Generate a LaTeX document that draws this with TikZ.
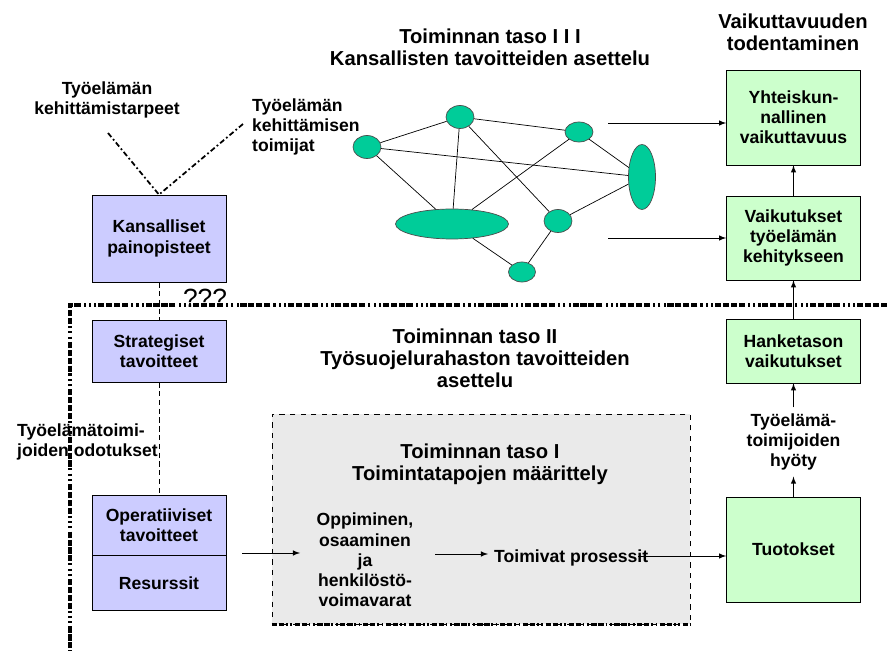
\documentclass[tikz,border=0pt]{standalone}
\usepackage{fontspec}
\setmainfont{Liberation Sans}
\usetikzlibrary{shapes.geometric}
\definecolor{boxblue}{RGB}{204,204,255}
\definecolor{boxgreen}{RGB}{204,255,204}
\definecolor{boxgrey}{RGB}{234,234,234}
\definecolor{blobgreen}{RGB}{0,204,153}

\begin{document}
\begin{tikzpicture}[x=0.02cm,y=-0.02cm,
    txt/.style={font=\bfseries\fontsize{10}{11.5}\selectfont,align=center},
    title/.style={font=\bfseries\fontsize{11.5}{12.5}\selectfont,align=center},
    bluebox/.style={draw,fill=boxblue,minimum width=2.68cm,inner sep=0pt,txt},
    greenbox/.style={draw,fill=boxgreen,minimum width=2.68cm,inner sep=0pt,txt},
    blob/.style={draw=black!70,fill=blobgreen,ellipse,inner sep=0pt},
    levelframe/.style={line width=2pt,dash pattern=on 3.5pt off 1pt on 3.5pt off 1pt on 3.5pt off 1pt on 3.5pt off 1pt on 1.2pt off 1.8pt on 1.2pt off 1.8pt on 1.2pt off 1.8pt},
    dashline/.style={line width=1pt,dash pattern=on 3pt off 1.5pt on 1pt off 1.5pt}]
    \useasboundingbox (0,0) rectangle (887,651);
    % titles
    \node [title] (T3) at (490,47) {Toiminnan taso I I I\\Kansallisten tavoitteiden asettelu};
    \node [title] (VT) at (793,32) {Vaikuttavuuden\\todentaminen};
    \node [title] (T2) at (475,358) {Toiminnan taso II\\Työsuojelurahaston tavoitteiden\\asettelu};
    % level frame
    \draw [levelframe] (887,305) -- (70,305) -- (70,651);
    % grey box
    \node [draw,dashed,fill=boxgrey,minimum width=8.36cm,minimum height=4.2cm] (G) at (481,519) {};
    \draw [line width=1.8pt,dash pattern=on 3pt off 1pt on 3pt off 1pt on 1pt off 1.5pt on 1pt off 1.5pt] (G.south west) -- (G.south east);
    \node [title] (T1) at (480,464) {Toiminnan taso I\\Toimintatapojen määrittely};
    \node [txt] (Opp) at (365,560) {Oppiminen,\\osaaminen\\ja\\henkilöstö-\\voimavarat};
    \node [txt,anchor=west] (Pro) at (488,558) {Toimivat prosessit};
    % left column
    \node [bluebox,minimum height=1.74cm] (Kan) at (159,238.5) {Kansalliset\\painopisteet};
    \node [bluebox,minimum height=1.24cm] (Str) at (159,351) {Strategiset\\tavoitteet};
    \node [bluebox,minimum height=1.2cm] (Ope) at (159,525) {Operatiiviset\\tavoitteet};
    \node [bluebox,minimum height=1.1cm,anchor=north] (Res) at (Ope.south) {Resurssit};
    \node [txt] (Tarve) at (107,100) {Työelämän\\kehittämistarpeet};
    \node [txt,align=left,anchor=west] (Toim) at (246,127) {Työelämän\\kehittämisen\\toimijat};
    \node [txt,align=left,anchor=west] (Odo) at (11,442) {Työelämätoimi-\\joiden odotukset};
    \node [font=\fontsize{15}{15}\selectfont] (Q) at (205,298) {???};
    \coordinate (d1) at (108,133);
    \coordinate (d2) at (243,124);
    \draw [dashline] (d1) -- (Kan.north) -- (d2);
    \draw [densely dashed] (Kan) -- (Str);
    \draw [densely dashed] (Str) -- (Ope);
    % right column
    \node [greenbox,minimum height=1.9cm] (Yht) at (793.5,117.5) {Yhteiskun-\\nallinen\\vaikuttavuus};
    \node [greenbox,minimum height=1.68cm] (Vai) at (793.5,238) {Vaikutukset\\työelämän\\kehitykseen};
    \node [greenbox,minimum height=1.28cm] (Han) at (793.5,351) {Hanketason\\vaikutukset};
    \node [txt] (Hyo) at (793.5,442) {Työelämä-\\toimijoiden\\hyöty};
    \node [greenbox,minimum height=2.1cm] (Tuo) at (793.5,549.5) {Tuotokset};
    \draw [-latex] (Vai) -- (Yht);
    \draw [-latex] (Han) -- (Vai);
    \draw [-latex] (Hyo) -- (Han);
    \draw [-latex] (Tuo) -- (Hyo);
    % network
    \node [blob,minimum width=0.56cm,minimum height=0.46cm] (n1) at (367,147) {};
    \node [blob,minimum width=0.56cm,minimum height=0.46cm] (n2) at (460,117) {};
    \node [blob,minimum width=0.56cm,minimum height=0.40cm] (n3) at (579,132) {};
    \node [blob,minimum width=0.54cm,minimum height=1.30cm] (n4) at (642,177) {};
    \node [blob,minimum width=2.26cm,minimum height=0.60cm] (n5) at (452,224) {};
    \node [blob,minimum width=0.56cm,minimum height=0.46cm] (n6) at (558,221) {};
    \node [blob,minimum width=0.54cm,minimum height=0.40cm] (n7) at (522,272) {};
    \foreach \a/\b in {n1/n2,n1/n4,n1/n5,n2/n3,n2/n5,n2/n6,n3/n4,n3/n5,n4/n6,n6/n7,n5/n7}
      \draw (\a) -- (\b);
    % flows
    \coordinate (w1) at (608,123);
    \coordinate (w2) at (608,238);
    \draw [-latex] (w1) -- (Yht.west |- w1);
    \draw [-latex] (w2) -- (Vai.west |- w2);
    \coordinate (o1) at (242,553);
    \coordinate (o2) at (300,553);
    \draw [-latex] (o1) -- (o2);
    \coordinate (p1) at (435,554);
    \draw [-latex] (p1) -- (Pro.west |- p1);
    \coordinate (p2) at (638,556);
    \draw [-latex] (p2) -- (Tuo.west |- p2);
\end{tikzpicture}
\end{document}
